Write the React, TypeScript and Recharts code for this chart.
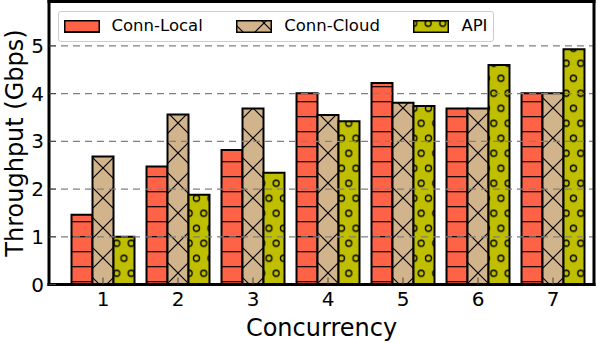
import React from "react";
import { BarChart, Bar, XAxis, YAxis, ReferenceLine, Legend } from "recharts";

const FONT = "'DejaVu Sans', sans-serif";

// values
const CONCURRENCY = ["1", "2", "3", "4", "5", "6", "7"];
const CONN_LOCAL = [1.46, 2.47, 2.82, 4.01, 4.22, 3.69, 4.01];
const CONN_CLOUD = [2.68, 3.56, 3.69, 3.55, 3.81, 3.69, 4.01];
const API = [1.0, 1.88, 2.34, 3.42, 3.74, 4.6, 4.93];
const Y_TICKS = [0, 1, 2, 3, 4, 5];
const GRID_LINES = [1, 2, 3, 4, 5];

const SERIES = [
  { key: "local", label: "Conn-Local", fill: "url(#hatch-local)" },
  { key: "cloud", label: "Conn-Cloud", fill: "url(#hatch-cloud)" },
  { key: "api", label: "API", fill: "url(#hatch-api)" },
];

const data = CONCURRENCY.map((c, i) => ({
  c,
  local: CONN_LOCAL[i],
  cloud: CONN_CLOUD[i],
  api: API[i],
}));

const frame = { stroke: "#000", strokeWidth: 3, strokeLinecap: "square" as const };
const tickMark = { stroke: "#444", strokeWidth: 1 };

function LegendBox() {
  return (
    <div
      style={{
        display: "flex",
        alignItems: "center",
        gap: 33.5,
        boxSizing: "border-box",
        height: 31,
        padding: "0 6px 0 5px",
        border: "1.5px solid #cccccc",
        borderRadius: 3,
        background: "#fff",
        fontFamily: FONT,
        fontSize: 16.5,
        color: "#000",
        lineHeight: 1,
      }}
    >
      {SERIES.map((s) => (
        <div key={s.key} style={{ display: "flex", alignItems: "center" }}>
          <svg width={36} height={13} style={{ display: "block" }}>
            <rect x={0.75} y={0.75} width={34.5} height={11.5} fill={s.fill} stroke="#000" strokeWidth={1.5} />
          </svg>
          <span style={{ marginLeft: 12 }}>{s.label}</span>
        </div>
      ))}
    </div>
  );
}

export default function App() {
  return (
    <div style={{ position: "absolute", left: 0, top: 0, width: 598, height: 343, background: "#fff" }}>
      <BarChart
        width={598}
        height={343}
        data={data}
        barSize={21}
        barGap={0}
        margin={{ top: 0.5, right: 3, bottom: 0, left: 0 }}
        style={{ fontFamily: FONT }}
      >
        <defs>
          <pattern id="hatch-local" patternUnits="userSpaceOnUse" width={15} height={15}>
            <rect width={15} height={15} fill="#ff6347" />
            <line x1={0} x2={15} y1={11.7} y2={11.7} stroke="#000" strokeWidth={1.2} />
          </pattern>
          <pattern id="hatch-cloud" patternUnits="userSpaceOnUse" x={13} y={18} width={30} height={30}>
            <rect width={30} height={30} fill="#d2b48c" />
            <line x1={-2} y1={-2} x2={32} y2={32} stroke="#000" strokeWidth={1.2} />
            <line x1={-2} y1={32} x2={32} y2={-2} stroke="#000" strokeWidth={1.2} />
          </pattern>
          <pattern id="hatch-api" patternUnits="userSpaceOnUse" x={0.7} y={3.3} width={14.5} height={30}>
            <rect width={14.5} height={30} fill="#bfbf00" />
            {[
              [0, 0],
              [14.5, 0],
              [0, 30],
              [14.5, 30],
              [7.25, 15],
            ].map(([cx, cy], i) => (
              <circle key={i} cx={cx} cy={cy} r={3} fill="none" stroke="#000" strokeWidth={1.3} />
            ))}
          </pattern>
        </defs>

        {SERIES.map((s) => (
          <Bar
            key={s.key}
            dataKey={s.key}
            name={s.label}
            fill={s.fill}
            stroke="#000"
            strokeWidth={2}
            isAnimationActive={false}
          />
        ))}

        {GRID_LINES.map((v) => (
          <ReferenceLine key={v} y={v} stroke="#808080" strokeWidth={1.2} strokeDasharray="7 5" />
        ))}

        <XAxis
          dataKey="c"
          height={58.5}
          interval={0}
          padding={{ left: 16.5, right: 3.5 }}
          tickSize={-7}
          tickMargin={14.5}
          tickLine={tickMark}
          axisLine={frame}
          tick={{ fill: "#000", fontSize: 20, fontFamily: FONT }}
          label={{ value: "Concurrency", position: "insideBottom", offset: 7.5, fill: "#000", fontSize: 24, fontFamily: FONT }}
        />
        <XAxis
          xAxisId="top"
          orientation="top"
          dataKey="c"
          height={1}
          interval={0}
          padding={{ left: 16.5, right: 3.5 }}
          tickSize={-7}
          tick={false}
          tickLine={tickMark}
          axisLine={frame}
        />
        <YAxis
          type="number"
          width={49}
          domain={[0, 5.93]}
          ticks={Y_TICKS}
          interval={0}
          allowDataOverflow
          tickSize={-7}
          tickMargin={12}
          tickLine={tickMark}
          axisLine={frame}
          tick={{ fill: "#000", fontSize: 20, fontFamily: FONT }}
          label={{
            value: "Throughput (Gbps)",
            angle: -90,
            position: "insideLeft",
            offset: 14,
            fill: "#000",
            fontSize: 24,
            fontFamily: FONT,
            style: { textAnchor: "middle" },
          }}
        />
        <YAxis
          yAxisId="right"
          orientation="right"
          type="number"
          width={1}
          domain={[0, 5.93]}
          ticks={Y_TICKS}
          allowDataOverflow
          tickSize={-7}
          tick={false}
          tickLine={tickMark}
          axisLine={frame}
        />

        <Legend
          layout="horizontal"
          verticalAlign="middle"
          align="center"
          content={() => <LegendBox />}
          wrapperStyle={{ position: "absolute", top: 11, left: 57.5, width: "auto" }}
        />
      </BarChart>
    </div>
  );
}
